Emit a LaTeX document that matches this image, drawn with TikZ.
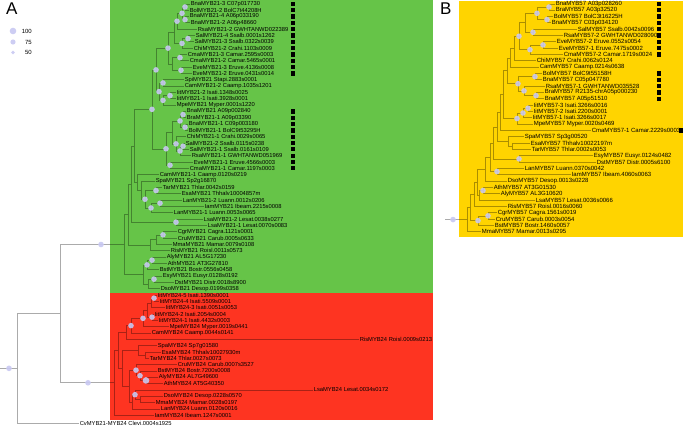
\documentclass[tikz,border=0pt]{standalone}
\usepackage{fontspec}
\setmainfont{Liberation Sans}
\usetikzlibrary{calc}
\definecolor{grn}{RGB}{102,196,72}
\definecolor{rd}{RGB}{254,52,33}
\definecolor{ylw}{RGB}{255,212,0}
\definecolor{lav}{RGB}{200,200,242}
\tikzset{
  br/.style={draw=black, draw opacity=0.33, line width=0.6pt},
  lab/.style={anchor=west, inner sep=0.6pt, font=\fontsize{5.8}{6}\selectfont},
  labb/.style={anchor=west, inner sep=0.6pt, font=\fontsize{6}{6.5}\selectfont},
  sq/.style={fill=black, minimum size=4.2pt, inner sep=0pt},
  bsc/.style={fill=lav, fill opacity=0.9},
  panel/.style={anchor=north west, inner sep=0pt, font=\fontsize{17}{17}\selectfont},
  leg/.style={anchor=east, inner sep=0pt, font=\fontsize{6}{6}\selectfont}
}
\newcommand\lf[4]{\coordinate (#1) at (#2,{3.8+6.33*(#3-1)}); \node[lab] (#1t) at (#1) {#4};}
\newcommand\lfb[4]{\coordinate (#1) at (#2,{3.8+6.33*(#3-1)}); \node[labb] (#1t) at (#1) {#4};}
\newcommand\nd[4]{\coordinate (#1m) at ($(#3)!0.5!(#4)$); \coordinate (#1) at (#2,0 |- #1m); \draw[br] (#1) |- (#3); \draw[br] (#1) |- (#4);}
\newcommand\bs[2][2.8]{\fill[bsc] (#2) circle (#1pt);}
\newcommand\sqa[1]{\node[sq] (#1q) at (293,0 |- #1) {};}
\newcommand\sqb[2][659]{\node[sq] (#2q) at (#1,0 |- #2) {};}
\begin{document}
\begin{tikzpicture}[x=1pt,y=-1pt]
\useasboundingbox (0,0) rectangle (685,426);
\fill[white] (0,0) rectangle (685,426);
\fill[grn] (110,0) rectangle (433,293);
\fill[rd] (110,293) rectangle (433,420);
\fill[ylw] (459,1) rectangle (683,237);
\node[panel] (pA) at (6,3) {A};
\node[panel] (pB) at (440,3) {B};
% legend
\fill[bsc] (13,31) circle (3.3pt); \node[leg] (g1) at (32,31) {100};
\fill[bsc] (13,42) circle (2.6pt); \node[leg] (g2) at (32,42) {75};
\fill[bsc] (13,52.5) circle (1.9pt); \node[leg] (g3) at (32,52.5) {50};
% ---------- Panel A leaves ----------
\lf{L1}{190}{1}{BnaMYB21-3 C07p017730}
\lf{L2}{189}{2}{BolMYB21-2 BolC7t44208H}
\lf{L3}{189}{3}{BnaMYB21-4 A06p033190}
\lf{L4}{190}{4}{BnaMYB21-2 A06p48660}
\lf{L5}{197}{5}{RsaMYB21-2 GWHTANWD022389}
\lf{L6}{195}{6}{SalMYB21-4 Ssalb.0001s1262}
\lf{L7}{194}{7}{SalMYB21-3 Ssalb.0322s0039}
\lf{L8}{193}{8}{ChiMYB21-2 Crahi.1103s0009}
\lf{L9}{187}{9}{CmaMYB21-3 Camar.2595s0003}
\lf{L10}{189}{10}{CmaMYB21-2 Camar.5465s0001}
\lf{L11}{192}{11}{EveMYB21-3 Eruve.4136s0008}
\lf{L12}{192}{12}{EveMYB21-2 Eruve.0431s0014}
\lf{L13}{184}{13}{SpiMYB21 Stapi.2883s0001}
\lf{L14}{184}{14}{CamMYB21-2 Caamp.1035s1201}
\lf{L15}{176}{15}{IitMYB21-2 Isati.1348s0025}
\lf{L16}{176}{16}{IitMYB21-1 Isati.3928s0001}
\lf{L17}{176}{17}{MpeMYB21 Myper.0001s1220}
\lf{L18}{186}{18}{BnaMYB21 A09p002840}
\lf{L19}{186}{19}{BraMYB21-1 A09p03390}
\lf{L20}{188}{20}{BnaMYB21-1 C09p003180}
\lf{L21}{188}{21}{BolMYB21-1 BolC9t53295H}
\lf{L22}{186}{22}{ChiMYB21-1 Crahi.0029s0065}
\lf{L23}{185}{23}{SalMYB21-2 Ssalb.0115s0238}
\lf{L24}{189}{24}{SalMYB21-1 Ssalb.0161s0109}
\lf{L25}{191}{25}{RsaMYB21-1 GWHTANWD051969}
\lf{L26}{193}{26}{EveMYB21-1 Eruve.4566s0003}
\lf{L27}{189}{27}{CmaMYB21-1 Camar.1197s0003}
\lf{L28}{159}{28}{CamMYB21-1 Caamp.0120s0219}
\lf{L29}{155}{29}{SpaMYB21 Sp2g16870}
\lf{L30}{162}{30}{TarMYB21 Thlar.0042s0159}
\lf{L31}{181}{31}{EsaMYB21 Thhalv10004857m}
\lf{L32}{182}{32}{LanMYB21-2 Luann.0012s0206}
\lf{L33}{204}{33}{IamMYB21 Ibeam.2215s0008}
\lf{L34}{173}{34}{LanMYB21-1 Luann.0053s0065}
\lf{L35}{203}{35}{LsaMYB21-2 Lesat.0038s0277}
\lf{L36}{207}{36}{LsaMYB21-1 Lesat.0070s0083}
\lf{L37}{177}{37}{CgrMYB21 Cagra.1121s0001}
\lf{L38}{177}{38}{CruMYB21 Carub.0005s0633}
\lf{L39}{172}{39}{MmaMYB21 Mamar.0079s0108}
\lf{L40}{170}{40}{RisMYB21 Roisl.0011s0573}
\lf{L41}{166}{41}{AlyMYB21 AL5G17230}
\lf{L42}{167}{42}{AthMYB21 AT3G27810}
\lf{L43}{159}{43}{BstMYB21 Bostr.0556s0458}
\lf{L44}{162}{44}{EsyMYB21 Eusyr.0128s0192}
\lf{L45}{174}{45}{DstMYB21 Distr.0018s8900}
\lf{L46}{160}{46}{DsoMYB21 Desop.0199s0358}
\lf{L47}{157}{47}{IitMYB24-5 Isati.1390s0001}
\lf{L48}{159}{48}{IitMYB24-4 Isati.5509s0001}
\lf{L49}{165}{49}{IitMYB24-3 Isati.0051s0053}
\lf{L50}{154}{50}{IitMYB24-2 Isati.2054s0004}
\lf{L51}{158}{51}{IitMYB24-1 Isati.4432s0003}
\lf{L52}{169}{52}{MpeMYB24 Myper.0019s0441}
\lf{L53}{151}{53}{CamMYB24 Caamp.0044s0141}
\lf{L54}{359}{54}{RisMYB24 Roisl.0009s0213}
\lf{L55}{157}{55}{SpaMYB24 Sp7g01580}
\lf{L56}{161}{56}{EsaMYB24 Thhalv10027930m}
\lf{L57}{149}{57}{TarMYB24 Thlar.0027s0073}
\lf{L58}{177}{58}{CruMYB24 Carub.0007s3527}
\lf{L59}{157}{59}{BstMYB24 Bostr.7200s0008}
\lf{L60}{158}{60}{AlyMYB24 AL7G49600}
\lf{L61}{163}{61}{AthMYB24 AT5G40350}
\lf{L62}{313}{62}{LsaMYB24 Lesat.0034s0172}
\lf{L63}{163}{63}{DsoMYB24 Desop.0228s0570}
\lf{L64}{155}{64}{MmaMYB24 Mamar.0028s0197}
\lf{L65}{160}{65}{LanMYB24 Luann.0120s0016}
\lf{L66}{154}{66}{IamMYB24 Ibeam.1247s0001}
\coordinate (Out) at (79,423); \node[lab] (Outt) at (Out) {CvMYB21-MYB24 Clevi.0004s1925};
% ---------- Panel A internal nodes ----------
\nd{a1}{185}{L1}{L2} \nd{a2}{185}{L3}{L4} \nd{a3}{182}{a1}{a2} \nd{a4}{177}{a3}{L5}
\nd{a5}{188}{L6}{L7} \nd{a6}{182}{a5}{L8} \nd{a6b}{174}{a4}{a6}
\nd{a7}{180}{L9}{L10} \nd{a8}{181}{L11}{L12} \nd{a9}{172}{a7}{a8} \nd{a10}{168}{a6b}{a9}
\nd{a11}{163}{L13}{L14} \nd{a12}{170}{L15}{L16} \nd{a13}{163}{a12}{L17} \nd{a13b}{159}{a11}{a13}
\nd{a10b}{156}{a10}{a13b}
\nd{a14}{183}{L18}{L19} \nd{a15}{185}{L20}{L21} \nd{a16}{180}{a14}{a15}
\nd{a17}{183}{L23}{L24} \nd{a18}{180}{a17}{L25} \nd{a19}{176}{L22}{a18} \nd{a20}{172}{a16}{a19}
\nd{a21}{170}{L26}{L27} \nd{a22}{166}{a20}{a21} \nd{d1}{152}{a10b}{a22}
\nd{c10}{160}{L32}{L33} \nd{c11}{151}{c10}{L34} \nd{c12}{156}{L30}{L31} \nd{c13}{145}{c12}{c11}
\nd{c14}{141}{L29}{c13} \nd{c15}{137}{L28}{c14} \nd{d2}{134}{d1}{c15}
\nd{c9}{176}{L35}{L36} \nd{d3}{131}{d2}{c9}
\nd{c6}{163}{L37}{L38} \nd{c7}{156}{c6}{L39} \nd{c8}{150}{c7}{L40} \nd{d4}{128}{d3}{c8}
\nd{c1}{152}{L41}{L42} \nd{c2}{147}{c1}{L43} \nd{c3}{154}{L44}{L45} \nd{c4}{148}{c3}{L46}
\nd{c5}{143}{c2}{c4} \nd{G}{124}{d4}{c5}
\nd{r1}{154}{L47}{L48} \nd{r2}{151}{r1}{L49} \nd{r3}{152}{L50}{L51} \nd{r4}{147}{r2}{r3}
\nd{r5}{143}{r4}{L52} \nd{r6}{131}{r5}{L53} \nd{r7}{126}{r6}{L54}
\nd{r9}{145}{L56}{L57} \nd{r8}{138}{L55}{r9}
\nd{r11}{146}{L60}{L61} \nd{r12}{140}{L59}{r11} \nd{r13}{136}{L58}{r12}
\nd{r14}{140}{L63}{L64} \nd{r15}{135}{L62}{r14} \nd{r16}{132}{r15}{L65}
\nd{r17}{129}{r13}{r16} \nd{r18}{122}{r8}{r17} \nd{r19}{118}{r7}{r18} \nd{R}{114}{r19}{L66}
\nd{I}{60}{G}{R} \nd{Rt}{17}{I}{Out}
\coordinate (Rs) at (0,0 |- Rt); \draw[br] (Rs) -- (Rt);
% squares A
\foreach \i in {1,...,12,18,19,...,27} {\sqa{L\i}}
% ---------- Panel B leaves ----------
\lfb{B1}{555}{1}{BnaMYB57 A03p028260}
\lfb{B2}{555}{2}{BraMYB57 A03p32520}
\lfb{B3}{553}{3}{BolMYB57 BolC3t16225H}
\lfb{B4}{551}{4}{BnaMYB57 C03p034120}
\lfb{B5}{577}{5}{SalMYB57 Ssalb.0042s0096}
\lfb{B6}{563}{6}{RsaMYB57-2 GWHTANWD028090}
\lfb{B7}{556}{7}{EveMYB57-2 Eruve.0552s0054}
\lfb{B8}{558}{8}{EveMYB57-1 Eruve.7475s0002}
\lfb{B9}{563}{9}{CmaMYB57-2 Camar.1719s0024}
\lfb{B10}{536}{10}{ChiMYB57 Crahi.0062s0124}
\lfb{B11}{539}{11}{CamMYB57 Caamp.0214s0638}
\lfb{B12}{542}{12}{BolMYB57 BolC9t55158H}
\lfb{B13}{542}{13}{BnaMYB57 C05p047780}
\lfb{B14}{545}{14}{RsaMYB57-1 GWHTANWD035528}
\lfb{B15}{544}{15}{BraMYB57 R2135-chrA05p000230}
\lfb{B16}{544}{16}{BnaMYB57 A05p51510}
\lfb{B17}{533}{17}{IitMYB57-3 Isati.3266s0016}
\lfb{B18}{533}{18}{IitMYB57-2 Isati.2200s0001}
\lfb{B19}{532}{19}{IitMYB57-1 Isati.3266s0017}
\lfb{B20}{533}{20}{MpeMYB57 Myper.0020s0469}
\lfb{B21}{591}{21}{CmaMYB57-1 Camar.2229s0003}
\lfb{B22}{524}{22}{SpaMYB57 Sp3g00520}
\lfb{B23}{530}{23}{EsaMYB57 Thhalv10022197m}
\lfb{B24}{531}{24}{TarMYB57 Thlar.0002s0053}
\lfb{B25}{593}{25}{EsyMYB57 Eusyr.0124s0482}
\lfb{B26}{596}{26}{DstMYB57 Distr.0005s6100}
\lfb{B27}{524}{27}{LanMYB57 Luann.0370s0042}
\lfb{B28}{571}{28}{IamMYB57 Ibeam.4060s0063}
\lfb{B29}{507}{29}{DsoMYB57 Desop.0013s0228}
\lfb{B30}{493}{30}{AthMYB57 AT3G01530}
\lfb{B31}{500}{31}{AlyMYB57 AL3G10620}
\lfb{B32}{535}{32}{LsaMYB57 Lesat.0036s0066}
\lfb{B33}{507}{33}{RisMYB57 Roisl.0016s0060}
\lfb{B34}{497}{34}{CgrMYB57 Cagra.1561s0019}
\lfb{B35}{495}{35}{CruMYB57 Carub.0003s0054}
\lfb{B36}{494}{36}{BstMYB57 Bostr.1460s0057}
\lfb{B37}{481}{37}{MmaMYB57 Mamar.0013s0295}
% ---------- Panel B internal nodes ----------
\nd{b1}{549}{B1}{B2} \nd{b2}{547}{B3}{B4} \nd{b3}{537}{b1}{b2} \nd{b4}{533}{B5}{B6}
\nd{b5}{525}{b3}{b4} \nd{b6}{543}{B7}{B8} \nd{b7}{530}{b6}{B9} \nd{b8}{519}{b5}{b7}
\nd{b9}{514}{b8}{B10} \nd{b10}{510}{b9}{B11}
\nd{b11}{535}{B12}{B13} \nd{b12}{536}{B15}{B16} \nd{b13}{524}{B14}{b12} \nd{b14}{518}{b11}{b13}
\nd{U10}{507}{b10}{b14}
\nd{U13}{528}{B17}{B18} \nd{U12}{523}{U13}{B19} \nd{U11}{517}{U12}{B20}
\nd{U9}{503}{U10}{U11} \nd{U6}{500}{U9}{B21}
\nd{U8}{512}{B23}{B24} \nd{U7}{508}{B22}{U8} \nd{U4}{497}{U6}{U7}
\nd{U5}{519}{B25}{B26} \nd{U2}{493}{U4}{U5}
\nd{U3}{497}{B27}{B28} \nd{U1}{490}{U2}{U3} \nd{U0}{485}{U1}{B29}
\nd{W1}{483}{B30}{B31} \nd{W2}{479}{W1}{B32} \nd{W3}{477}{U0}{W2} \nd{Y}{474}{W3}{B33}
\nd{ZZ}{488}{B34}{B35} \nd{Z}{478}{ZZ}{B36} \nd{X}{470}{Y}{Z} \nd{BR}{467}{X}{B37}
\coordinate (BRs) at (445,0 |- BR); \draw[br] (BRs) -- (BR);
% squares B
\foreach \i in {1,...,9,12,13,...,16} {\sqb{B\i}}
\sqb[681]{B21}
% ---------- bootstrap circles ----------
\foreach \n in {a1,a2,a3,a4,a5,a6,a7,a8,a10,a11,a12,a13,a13b,a10b,a14,a15,a16,a17,a18,a19,a21,a22,d1,c10,c11,c12,c13,c9,c6,c1,c2,c3,r1,r3,r5,r6,r12,r13,r15} {\bs{\n}}
\bs[3.3]{r11}
\fill[bsc] (101,0 |- G) circle (2.8pt);
\fill[bsc] (88,0 |- R) circle (2.8pt);
\fill[bsc] (9,0 |- Rt) circle (2.8pt);
\foreach \n in {b1,b2,b3,b4,b6,b7,b8,b11,b12,b13,b14,U13,U12,U11,U5,U3,W1,ZZ,Z} {\bs{\n}}
\fill[bsc] (453,0 |- BR) circle (2.8pt);
\end{tikzpicture}
\end{document}
